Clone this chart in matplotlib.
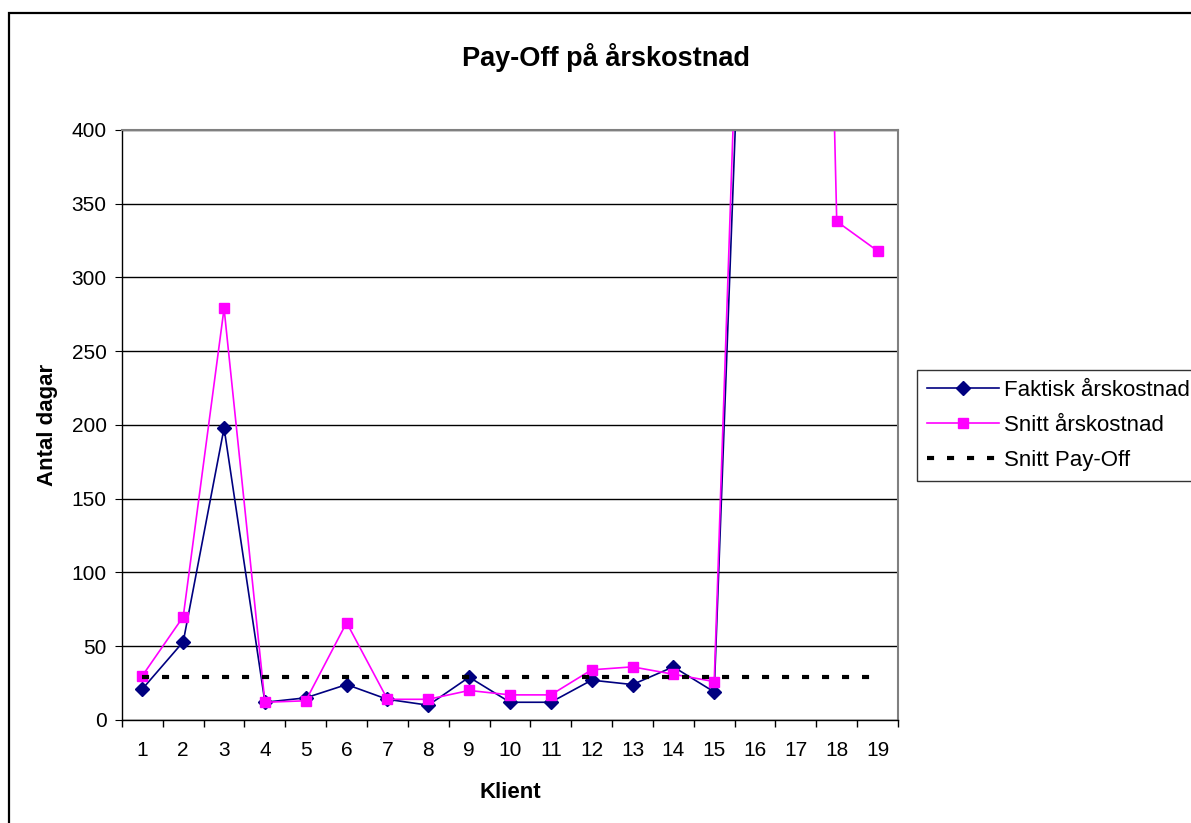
import matplotlib.pyplot as plt
from matplotlib.patches import Rectangle
from matplotlib.lines import Line2D

plt.rcParams['font.family'] = ['Liberation Sans', 'DejaVu Sans']

klient = list(range(1, 20))
faktisk = [21, 53, 198, 12, 15, 24, 14, 10, 29, 12, 12, 27, 24, 36, 19,
           760, 1100, 950, 880]
snitt = [30, 70, 279, 12, 13, 66, 14, 14, 20, 17, 17, 34, 36, 31, 26,
         840, 1500, 338, 318]
snitt_payoff = [29] * 19

fig = plt.figure(figsize=(11.91, 8.23), dpi=100)
ax = fig.add_axes([0.1024, 0.1252, 0.6516, 0.7169])

# outer chart frame (cropped on right/bottom like the source)
fig.patches.append(Rectangle((9 / 1191, -0.05), 1.2, 1 - 13 / 823 + 0.05,
                             transform=fig.transFigure, fill=False,
                             edgecolor='black', linewidth=1.6))

ax.plot(klient, faktisk, color='#000080', marker='D', markersize=7,
        linewidth=1.2, label='Faktisk årskostnad')
ax.plot(klient, snitt, color='#FF00FF', marker='s', markersize=7.5,
        linewidth=1.2, label='Snitt årskostnad')
ax.plot(klient, snitt_payoff, color='black', linewidth=3,
        linestyle=(0, (1.7, 3.1)), label='Snitt Pay-Off')

ax.set_xlim(0.5, 19.5)
ax.set_ylim(0, 400)
ax.set_yticks(range(0, 401, 50))
ax.set_xticks(klient)
ax.set_xticks([i + 0.5 for i in range(0, 20)], minor=True)
ax.tick_params(axis='x', which='major', length=0, labelsize=15, pad=15)
ax.tick_params(axis='x', which='minor', length=5, direction='out', width=1)
ax.tick_params(axis='y', length=5, direction='out', labelsize=15, pad=6)
ax.grid(axis='y', color='black', linewidth=1)
ax.set_axisbelow(True)

for s in ['top', 'right']:
    ax.spines[s].set_color('#808080')
    ax.spines[s].set_linewidth(1.5)
for s in ['left', 'bottom']:
    ax.spines[s].set_color('black')
    ax.spines[s].set_linewidth(1)

ax.set_xlabel('Klient', fontsize=16, fontweight='bold', labelpad=16)
ax.set_ylabel('Antal dagar', fontsize=16, fontweight='bold', labelpad=10)
fig.text(606 / 1191, 1 - 57 / 823, 'Pay-Off på årskostnad', fontsize=19.5,
         fontweight='bold', ha='center', va='center')

handles = [
    Line2D([], [], color='#000080', marker='D', markersize=7, linewidth=1.2),
    Line2D([], [], color='#FF00FF', marker='s', markersize=7.5, linewidth=1.2),
    Line2D([], [], color='black', linewidth=3, linestyle=(0, (1.7, 3.1))),
]
leg = fig.legend(handles, ['Faktisk årskostnad', 'Snitt årskostnad', 'Snitt Pay-Off'],
                 loc='upper left', bbox_to_anchor=(917 / 1191, 1 - 370 / 823),
                 fontsize=16, frameon=True, fancybox=False, handlelength=3.25,
                 handletextpad=0.22, borderpad=0.45, labelspacing=0.62,
                 borderaxespad=0)
leg.get_frame().set_edgecolor('black')
leg.get_frame().set_linewidth(1)

fig.savefig('out.png', dpi=100)
